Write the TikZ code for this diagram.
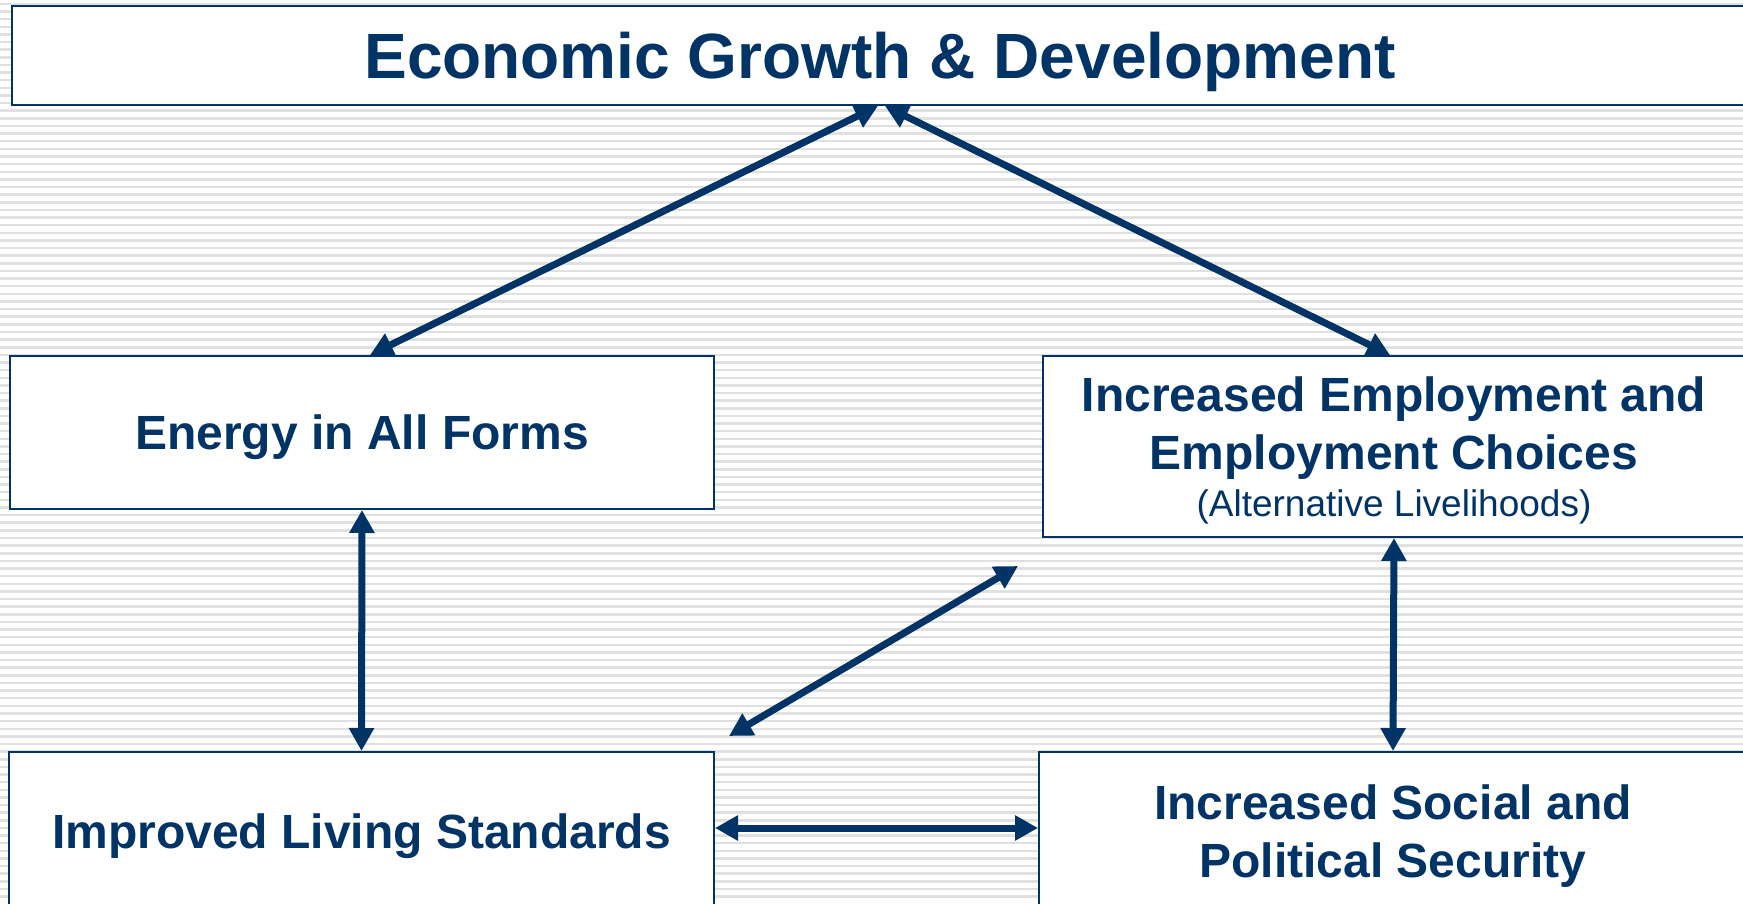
\documentclass[tikz,border=0pt]{standalone}
\usepackage{fontspec}
\setmainfont{Liberation Sans}
\usetikzlibrary{arrows.meta}
\definecolor{navy}{RGB}{0,51,102}
\def\mystripe{7.63}
\def\myhead{Triangle[width=24pt,length=23pt]}
\tikzset{
x=1pt,y=-1pt,
my box/.style={draw=navy,fill=white,line width=2pt,rectangle,inner sep=0pt,
  text=navy,align=center,text depth=0pt,font=\bfseries\fontsize{48}{58}\selectfont},
my title/.style={my box,font=\bfseries\fontsize{64}{70}\selectfont},
my arrow/.style={{\myhead}-{\myhead},draw=navy,line width=7pt},
stripe/.style={draw=black!12,line width=2.5pt}
}
\begin{document}
\begin{tikzpicture}
\useasboundingbox (0,0) rectangle (1743,904);
\clip (0,0) rectangle (1743,904);
% striped background
\fill[white] (0,0) rectangle (1743,904);
\foreach \y in {3.9,11.53,...,904}
  \draw[stripe] (0,\y) -- (1743,\y);
% boxes
\node[my title,minimum width=1736pt,minimum height=99pt] (growth) at (880,55.5)
  {Economic Growth \& Development};
\node[my box,minimum width=704pt,minimum height=153pt] (energy) at (362,432.5)
  {Energy in All Forms};
\node[my box,minimum width=702pt,minimum height=181pt,text depth=-4pt] (employ) at (1394,446.5)
  {Increased Employment and\\Employment Choices\\[-11pt]%
   {\mdseries\fontsize{37}{40}\selectfont(Alternative Livelihoods)}};
\node[my box,minimum width=705pt,minimum height=158pt] (living) at (361.5,831)
  {Improved Living Standards};
\node[my box,minimum width=708pt,minimum height=158pt] (security) at (1393,831)
  {Increased Social and\\Political Security};
% connectors
\draw[my arrow] ([xshift=-2pt]growth.south) -- ([xshift=8pt]energy.north);
\draw[my arrow] ([xshift=5pt]growth.south) -- ([xshift=-4pt]employ.north);
\draw[my arrow] (energy.south) -- (living.north);
\draw[my arrow] (employ.south) -- (security.north);
\draw[my arrow] ([shift={(14pt,15pt)}]living.north east)
  -- ([shift={(-24pt,-28pt)}]employ.south west);
\draw[my arrow] ([yshift=3pt]living.east) -- ([yshift=3pt]security.west);
\end{tikzpicture}
\end{document}
